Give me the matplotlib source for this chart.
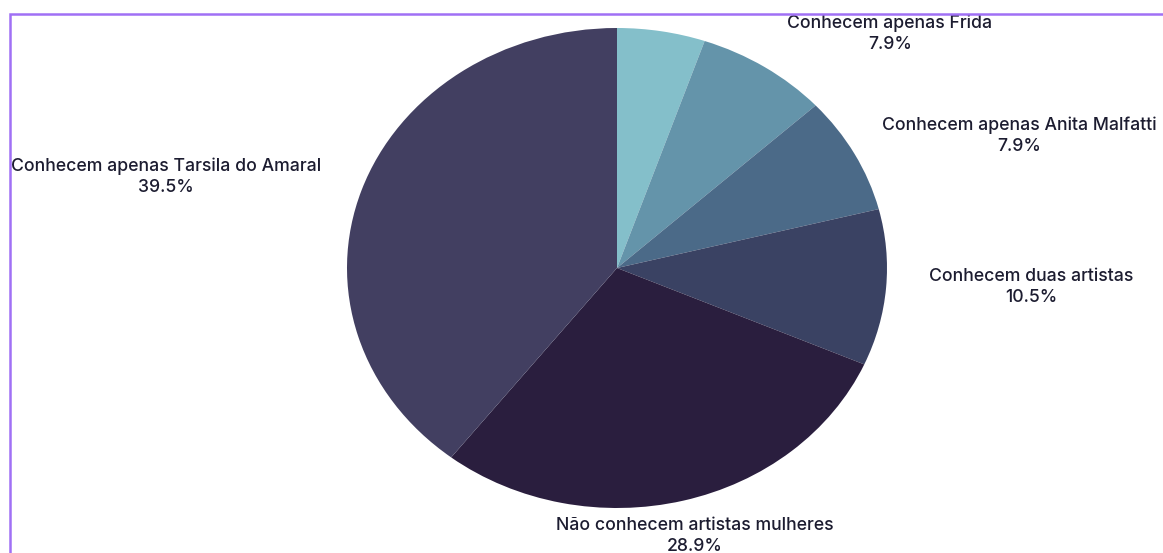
import matplotlib
matplotlib.use('Agg')
import matplotlib.pyplot as plt
from matplotlib.patches import Rectangle

# respondents per answer (38 total), clockwise from 12 o'clock
categories = [
    "",
    "Conhecem apenas Frida",
    "Conhecem apenas Anita Malfatti",
    "Conhecem duas artistas",
    "Não conhecem artistas mulheres",
    "Conhecem apenas Tarsila do Amaral",
]
counts = [2, 3, 3, 4, 11, 15]
colors = ['#84BFCA', '#6494AA', '#4B6A88', '#3A4263', '#2A1E3E', '#423F61']

# label anchor points in pie units (radius = 1)
label_pos = [None, (1.011, 0.975), (1.49, 0.552), (1.533, -0.08),
             (0.289, -1.115), (-1.67, 0.379)]

W, H = 1163, 553
cx, cy, rx, ry = 617, 268, 270, 240

fig = plt.figure(figsize=(W / 100, H / 100), dpi=100)
ax = fig.add_axes([0, 0, 1, 1])

wedges, _ = ax.pie(counts, colors=colors, startangle=90, counterclock=False,
                   wedgeprops=dict(linewidth=0))
ax.set_aspect('auto')
ax.set_xlim(-cx / rx, (W - cx) / rx)
ax.set_ylim((cy - H) / ry, cy / ry)
ax.axis('off')

total = sum(counts)
for name, n, pos in zip(categories, counts, label_pos):
    if pos is None:
        continue
    ax.text(pos[0], pos[1], f"{name}\n{n / total * 100:.1f}%",
            ha='center', va='center', fontsize=12.7, family='Inter',
            weight='medium', color='#1c1c30', linespacing=1.3,
            clip_on=False)

# purple frame, right and bottom edges fall outside the image
fig.patches.append(Rectangle((9.5 / W, -0.1), 1.2, 1 - 14.5 / H + 0.1,
                             transform=fig.transFigure, fill=False,
                             edgecolor='#A070F5', linewidth=1.8))

fig.savefig('out.png', dpi=100)
